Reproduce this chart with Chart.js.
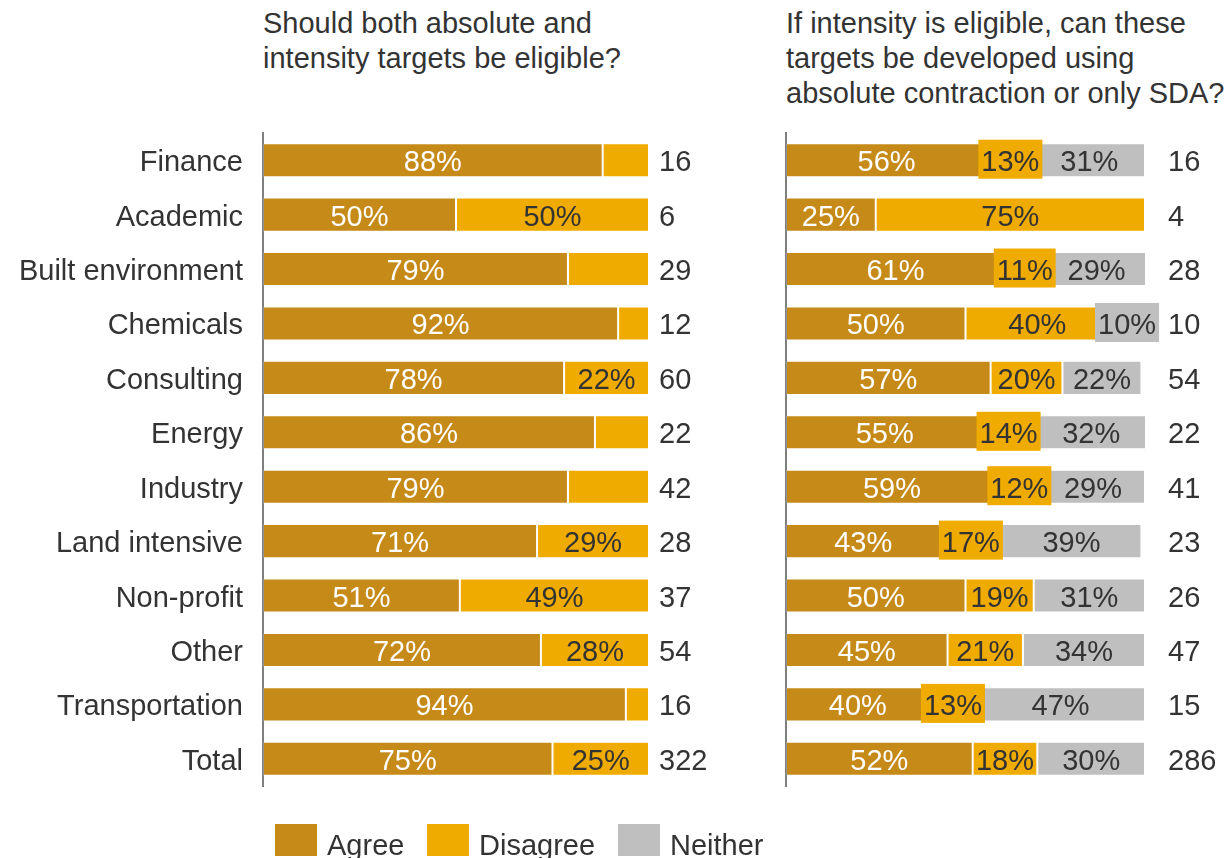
<!DOCTYPE html>
<html>
<head>
<meta charset="utf-8">
<script src="https://cdn.jsdelivr.net/npm/chart.js@4/dist/chart.umd.min.js"></script>
<style>
  html, body { margin: 0; padding: 0; background: #fff; width: 1228px; height: 858px; overflow: hidden; position: relative; font-family: "Liberation Sans", Arial, sans-serif; color: #333; }
  .box { position: absolute; }
  .title { position: absolute; font-size: 29px; line-height: 35px; color: #333; white-space: nowrap; }
  .legend { position: absolute; top: 824px; left: 0; }
  .sw { position: absolute; width: 42px; height: 32px; top: 0; }
  .lt { position: absolute; font-size: 29px; line-height: 32px; top: 5px; white-space: nowrap; color: #333; }
</style>
</head>
<body>
<div class="title" style="left:263px; top:6px;">Should both absolute and<br>intensity targets be eligible?</div>
<div class="title" style="left:786px; top:6px;">If intensity is eligible, can these<br>targets be developed using<br>absolute contraction or only SDA?</div>

<div class="box" style="left:0; top:0; width:760px; height:858px;"><canvas id="left"></canvas></div>
<div class="box" style="left:700px; top:0; width:528px; height:858px;"><canvas id="right"></canvas></div>

<div class="legend">
  <div class="sw" style="left:275px; background:#C68A19;"></div><div class="lt" style="left:327px;">Agree</div>
  <div class="sw" style="left:427px; background:#F0AB00;"></div><div class="lt" style="left:479px;">Disagree</div>
  <div class="sw" style="left:618px; background:#BFBFBF;"></div><div class="lt" style="left:670px;">Neither</div>
</div>

<script>
const categories = ["Finance","Academic","Built environment","Chemicals","Consulting","Energy","Industry","Land intensive","Non-profit","Other","Transportation","Total"];

const leftAgree    = [88, 50, 79, 92, 78, 86, 79, 71, 51, 72, 94, 75];
const leftDisagree = [12, 50, 21,  8, 22, 14, 21, 29, 49, 28,  6, 25];
const leftCounts   = [16, 6, 29, 12, 60, 22, 42, 28, 37, 54, 16, 322];

const rightAgree    = [56, 25, 61, 50, 57, 55, 59, 43, 50, 45, 40, 52];
const rightDisagree = [13, 75, 11, 40, 20, 14, 12, 17, 19, 21, 13, 18];
const rightNeither  = [31,  0, 29, 10, 22, 32, 29, 39, 31, 34, 47, 30];
const rightCounts   = [16, 4, 28, 10, 54, 22, 41, 23, 26, 47, 15, 286];

const COL_AGREE = "#C68A19", COL_DIS = "#F0AB00", COL_NEI = "#BFBFBF";
const FONT = '"Liberation Sans", Arial, sans-serif';
const TXT = "#333333";

function labelPlugin(counts, countOffset, minLabel) {
  return {
    id: "labels",
    afterDatasetsDraw(chart) {
      const ctx = chart.ctx;
      ctx.save();
      ctx.font = "29px " + FONT;
      ctx.textBaseline = "middle";
      ctx.textAlign = "center";
      chart.data.datasets.forEach((ds, di) => {
        const meta = chart.getDatasetMeta(di);
        meta.data.forEach((bar, i) => {
          const v = ds.data[i];
          if (!v || v < minLabel) return;
          const txt = v + "%";
          const x0 = Math.min(bar.x, bar.base), x1 = Math.max(bar.x, bar.base);
          const cx = (x0 + x1) / 2;
          const tw = ctx.measureText(txt).width;
          if (di > 0 && tw + 4 > x1 - x0) {
            ctx.fillStyle = ds.backgroundColor;
            const bw = tw + 6, bh = bar.height + 5;
            ctx.fillRect(cx - bw / 2, bar.y - bh / 2 - 1, bw, bh);
          }
          ctx.fillStyle = di === 0 ? "#ffffff" : TXT;
          ctx.fillText(txt, cx, bar.y + 3);
        });
      });
      // counts
      const ys = chart.scales.y;
      ctx.textAlign = "left";
      ctx.fillStyle = TXT;
      counts.forEach((c, i) => {
        ctx.fillText(String(c), chart.chartArea.right + countOffset, ys.getPixelForValue(i) + 3);
      });
      ctx.restore();
    }
  };
}

function makeChart(id, datasets, counts, opts) {
  return new Chart(document.getElementById(id), {
    type: "bar",
    data: { labels: categories, datasets },
    options: {
      indexAxis: "y",
      responsive: true,
      maintainAspectRatio: false,
      animation: false,
      events: [],
      layout: { padding: { top: 133, bottom: 72, left: 0, right: opts.padRight } },
      plugins: { legend: { display: false }, tooltip: { enabled: false } },
      datasets: { bar: { categoryPercentage: 1, barPercentage: 0.625, borderWidth: 1, borderColor: "rgba(255,255,255,0.15)", borderSkipped: false } },
      scales: {
        x: { stacked: true, min: 0, max: 100, display: false },
        y: {
          stacked: true,
          afterFit: s => { s.width = opts.axisWidth; },
          grid: { display: false, drawTicks: false },
          border: { display: true, color: "#7f7f7f", width: 2 },
          ticks: { display: opts.showTicks, padding: 20, labelOffset: 3, color: TXT, font: { size: 29, family: FONT } }
        }
      }
    },
    plugins: [labelPlugin(counts, opts.countOffset, opts.minLabel)]
  });
}

makeChart("left", [
  { label: "Agree", data: leftAgree, backgroundColor: COL_AGREE },
  { label: "Disagree", data: leftDisagree, backgroundColor: COL_DIS }
], leftCounts, { padRight: 111, axisWidth: 263, showTicks: true, countOffset: 10, minLabel: 22 });

makeChart("right", [
  { label: "Agree", data: rightAgree, backgroundColor: COL_AGREE },
  { label: "Disagree", data: rightDisagree, backgroundColor: COL_DIS },
  { label: "Neither", data: rightNeither, backgroundColor: COL_NEI }
], rightCounts, { padRight: 83, axisWidth: 86, showTicks: false, countOffset: 23, minLabel: 1 });
</script>
</body>
</html>
